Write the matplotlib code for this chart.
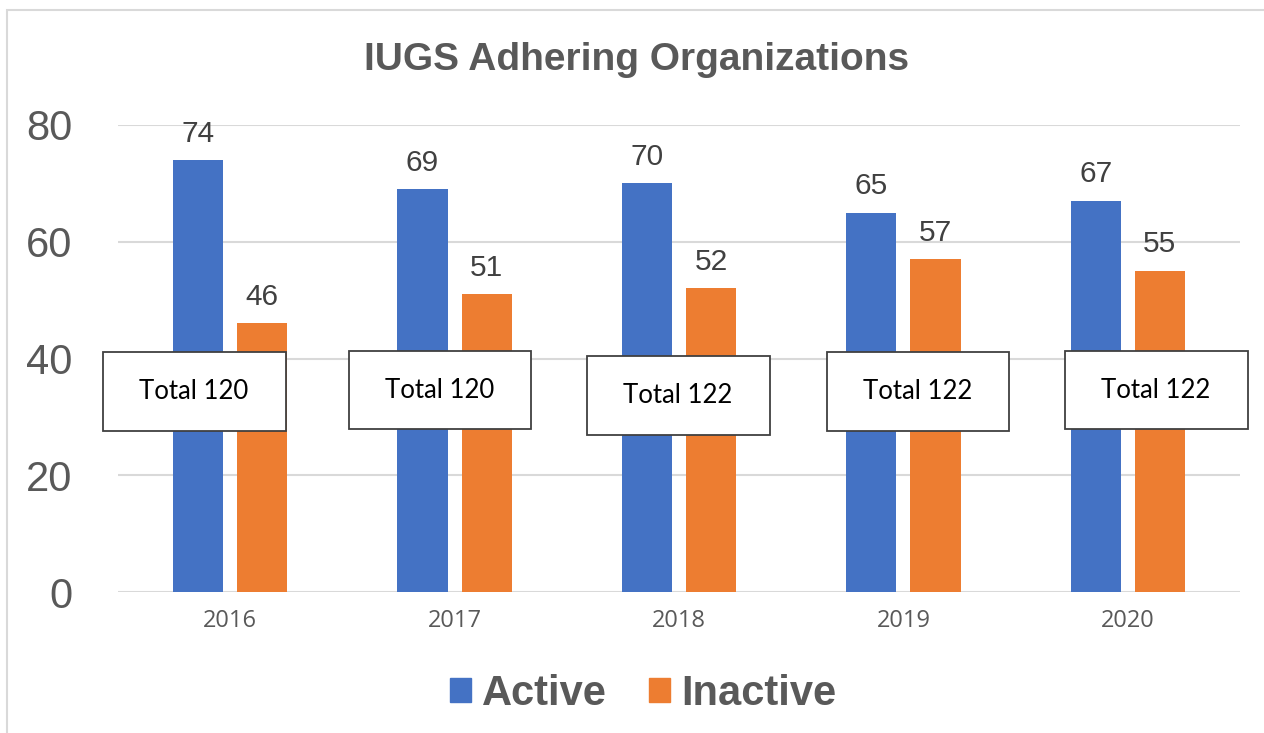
import numpy as np
import matplotlib
matplotlib.use("Agg")
import matplotlib.pyplot as plt
from matplotlib.patches import Rectangle, Patch

years = ["2016", "2017", "2018", "2019", "2020"]
active = [74, 69, 70, 65, 67]
inactive = [46, 51, 52, 57, 55]

# layout of the "Total" boxes (centre offset from category, centre height)
box_dx = [-0.161, -0.065, -0.004, 0.065, 0.126]
box_y = [34.4, 34.6, 33.7, 34.4, 34.6]

blue = "#4472C4"
orange = "#ED7D31"
grey = "#595959"

fig = plt.figure(figsize=(12.64, 7.33), dpi=100)
ax = fig.add_axes([118 / 1264, 1 - 592 / 733, 1122 / 1264, 467 / 733])

x = np.arange(len(years))
w = 0.223
off = 0.143
b1 = ax.bar(x - off, active, w, color=blue, zorder=3)
b2 = ax.bar(x + off, inactive, w, color=orange, zorder=3)

for bars, vals in ((b1, active), (b2, inactive)):
    for rect, v in zip(bars, vals):
        ax.annotate(str(v), (rect.get_x() + rect.get_width() / 2, v),
                    xytext=(0, 9), textcoords="offset points",
                    ha="center", va="bottom", fontsize=21.5,
                    family="Liberation Sans", color="#404040", zorder=5)

# total boxes
bw, bh = 0.815, 13.5
for i in range(len(years)):
    total = active[i] + inactive[i]
    cx = x[i] + box_dx[i]
    cy = box_y[i]
    ax.add_patch(Rectangle((cx - bw / 2, cy - bh / 2), bw, bh,
                           facecolor="white", edgecolor="#404040",
                           lw=1.3, zorder=6, clip_on=False))
    ax.text(cx, cy, f"Total {total}", ha="center", va="center",
            fontsize=18.5, family="Lato", color="black", zorder=7,
            clip_on=False)

ax.set_xlim(-0.5, len(years) - 0.5)
ax.set_ylim(0, 80)
ax.set_yticks([0, 20, 40, 60, 80])
ax.set_xticks(x)
ax.set_xticklabels(years, fontsize=17, family="Open Sans", color=grey)
for lab in ax.get_yticklabels():
    lab.set_fontsize(30)
    lab.set_family("Liberation Sans")
    lab.set_color(grey)
ax.tick_params(axis="y", length=0, pad=33)
ax.tick_params(axis="x", length=0, pad=12)
ax.grid(axis="y", color="#d9d9d9", lw=1.5, zorder=0)
for s in ax.spines.values():
    s.set_visible(False)

fig.text(637 / 1264, 1 - 60 / 733, "IUGS Adhering Organizations",
         ha="center", va="center", fontsize=28, fontweight="bold",
         family="Liberation Sans", color=grey)

handles = [Patch(color=blue, label="Active"), Patch(color=orange, label="Inactive")]
leg = fig.legend(handles=handles, loc="center", ncol=2, frameon=False,
                 bbox_to_anchor=(643 / 1264, 1 - 694 / 733),
                 prop={"family": "Liberation Sans", "weight": "bold", "size": 30},
                 handlelength=0.5, handleheight=0.5, handletextpad=0.27,
                 columnspacing=1.0)
for t in leg.get_texts():
    t.set_color(grey)

# chart border
fig.patches.append(Rectangle((7 / 1264, -0.1), 1.2, 1 - 10 / 733 + 0.1,
                             transform=fig.transFigure, fill=False,
                             edgecolor="#d9d9d9", lw=1.5))

fig.savefig("out.png", dpi=100)
